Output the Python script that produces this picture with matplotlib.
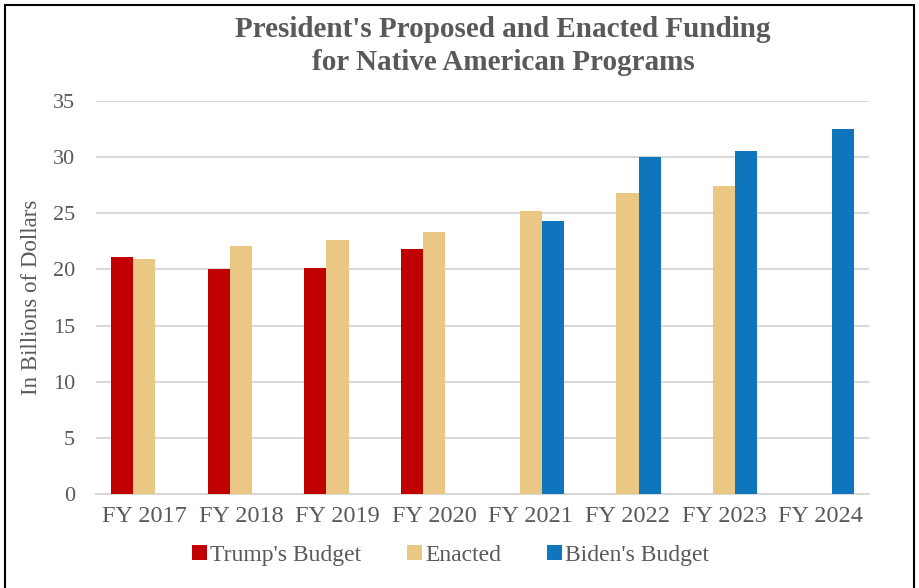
import matplotlib.pyplot as plt
import numpy as np
from matplotlib.patches import Rectangle

# data (billions of dollars)
years = ['FY 2017', 'FY 2018', 'FY 2019', 'FY 2020', 'FY 2021', 'FY 2022', 'FY 2023', 'FY 2024']
trump = [21.1, 20.0, 20.1, 21.8, np.nan, np.nan, np.nan, np.nan]
enacted = [20.9, 22.1, 22.6, 23.3, 25.2, 26.8, 27.4, np.nan]
biden = [np.nan, np.nan, np.nan, np.nan, 24.3, 30.0, 30.6, 32.5]

plt.rcParams['font.family'] = ['Liberation Serif', 'DejaVu Serif']
grey = '#595959'

fig = plt.figure(figsize=(9.2, 5.88), dpi=100)
ax = fig.add_axes([0.1043, 0.160, 0.8403, 0.668])

x = np.arange(len(years))
w = 0.23
ax.bar(x - w, trump, w, color='#C00000', label="Trump's Budget", zorder=3)
ax.bar(x, enacted, w, color='#EAC784', label='Enacted', zorder=3)
ax.bar(x + w, biden, w, color='#0F75BD', label="Biden's Budget", zorder=3)

ax.set_xlim(-0.5, len(years) - 0.5)
ax.set_ylim(0, 35)
ax.set_yticks(np.arange(0, 36, 5))
ax.set_xticks(x)
ax.set_xticklabels(years)
ax.tick_params(length=0, labelcolor=grey)
ax.tick_params(axis='y', pad=15, labelsize=16)
ax.tick_params(axis='x', pad=9, labelsize=17.5)
ax.grid(axis='y', color='#D9D9D9', linewidth=1.5, zorder=0)
for s in ['top', 'right', 'left']:
    ax.spines[s].set_visible(False)
ax.spines['bottom'].set_color('#D9D9D9')
ax.spines['bottom'].set_linewidth(1.5)

ax.set_ylabel('In Billions of Dollars', fontsize=16.5, color=grey, labelpad=8)

fig.text(503 / 920, 1 - 46 / 588, "President's Proposed and Enacted Funding\nfor Native American Programs",
         ha='center', va='center', fontsize=21, fontweight='bold', color=grey, linespacing=1.25)

leg = ax.legend(loc='center', bbox_to_anchor=(0.4586, -0.157), ncol=3, frameon=False,
                fontsize=17, handlelength=0.62, handleheight=0.62, handletextpad=0.14,
                columnspacing=1.95, labelcolor=grey)

# outer frame like the original screenshot
fig.patches.append(Rectangle((5 / 920, -0.05), 909 / 920, 1.05 - 5 / 588, transform=fig.transFigure,
                             fill=False, edgecolor='black', linewidth=1.5))

fig.savefig('out.png', dpi=100)
